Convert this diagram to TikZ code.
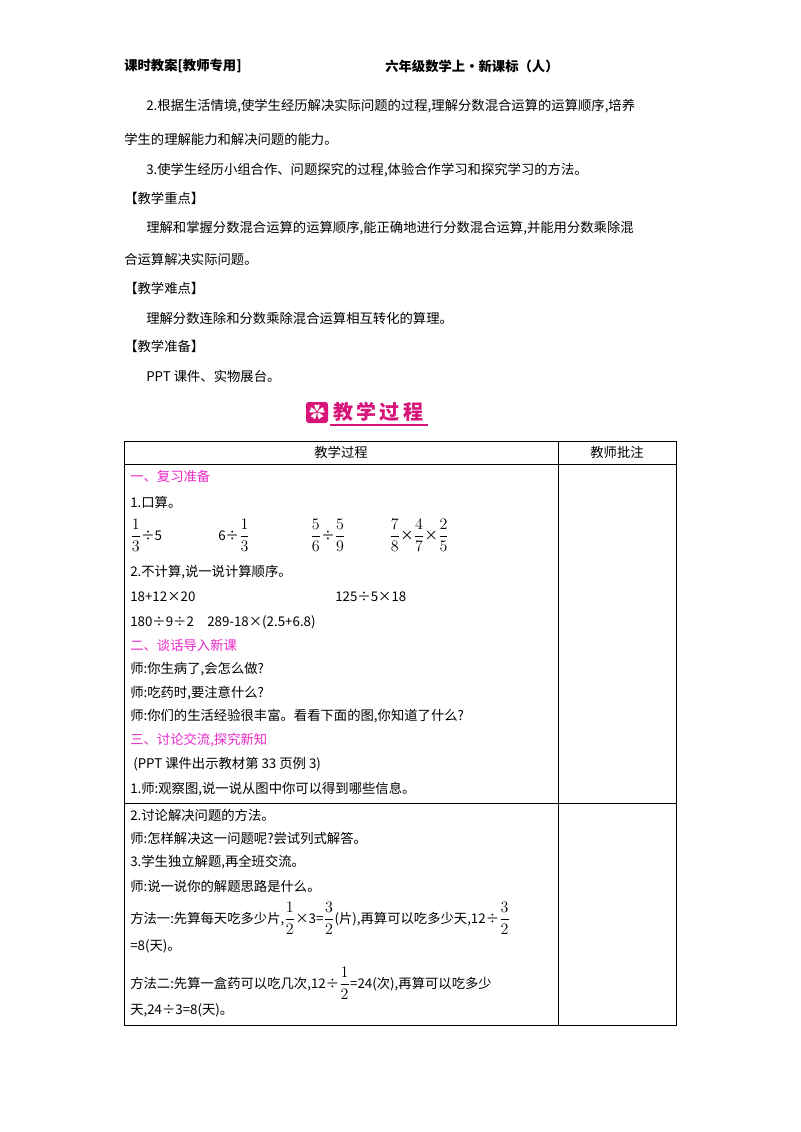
\documentclass[tikz,border=0pt]{standalone}
\usepackage{fontspec}
\setmainfont{Noto Sans CJK SC}
\usepackage{amsmath}
\definecolor{mag}{RGB}{235,40,200}
\definecolor{ban}{RGB}{215,20,120}
\newcommand{\fr}[2]{{\fontsize{13pt}{15pt}\selectfont$\dfrac{#1}{#2}$}}
\begin{document}
\begin{tikzpicture}[x=0.75pt,y=-0.75pt,
 t/.style={anchor=west,inner sep=0,font=\fontsize{10pt}{12pt}\selectfont},
 h/.style={t,text=mag},
 c/.style={anchor=center,inner sep=0,font=\fontsize{10pt}{12pt}\selectfont}]
\useasboundingbox[fill=white] (0,0) rectangle (800,1132);
\node[t,font=\bfseries\fontsize{10pt}{12pt}\selectfont] (h1) at (124,66) {课时教案[教师专用]};
\node[t,font=\bfseries\fontsize{10pt}{12pt}\selectfont] (h2) at (385,66) {六年级数学上·新课标（人）};
\node[t] (a1) at (146,106) {2.根据生活情境,使学生经历解决实际问题的过程,理解分数混合运算的运算顺序,培养};
\node[t] (a2) at (124,139) {学生的理解能力和解决问题的能力。};
\node[t] (a3) at (146,170) {3.使学生经历小组合作、问题探究的过程,体验合作学习和探究学习的方法。};
\node[t] (a4) at (124,198) {【教学重点】};
\node[t] (a5) at (146,228) {理解和掌握分数混合运算的运算顺序,能正确地进行分数混合运算,并能用分数乘除混};
\node[t] (a6) at (124,259) {合运算解决实际问题。};
\node[t] (a7) at (124,288) {【教学难点】};
\node[t] (a8) at (146,318) {理解分数连除和分数乘除混合运算相互转化的算理。};
\node[t] (a9) at (124,346) {【教学准备】};
\node[t] (a10) at (146,376) {PPT 课件、实物展台。};
% banner
\fill[ban,rounded corners=2pt] (306,402) rectangle (328,423);
\node[text=white,inner sep=0,font=\fontsize{12pt}{12pt}\selectfont] (bi) at (317,412.5) {✿};
\node[anchor=west,inner sep=0,text=ban,font=\bfseries\fontsize{15pt}{16pt}\selectfont] (bt) at (333,412) {教\,学\,过\,程};
\draw[ban,line width=0.8pt] (330,425) -- (428,425);
% table
\draw[line width=0.6pt] (124,441) rectangle (676,1025);
\draw[line width=0.6pt] (124,464) -- (676,464);
\draw[line width=0.6pt] (124,803) -- (676,803);
\draw[line width=0.6pt] (558,441) -- (558,1025);
\node[c] (th1) at (341,452) {教学过程};
\node[c] (th2) at (617,452) {教师批注};
\node[h] (b1) at (130,476) {一、复习准备};
\node[t] (b2) at (130,502) {1.口算。};
\node[t] (f1) at (130,535) {\fr{1}{3}÷5};
\node[t] (f2) at (218,535) {6÷\fr{1}{3}};
\node[t] (f3) at (310,535) {\fr{5}{6}÷\fr{5}{9}};
\node[t] (f4) at (389,535) {\fr{7}{8}×\fr{4}{7}×\fr{2}{5}};
\node[t] (b3) at (130,572) {2.不计算,说一说计算顺序。};
\node[t] (b4) at (130,597) {18+12×20};
\node[t] (b5) at (335,597) {125÷5×18};
\node[t] (b6) at (130,622) {180÷9÷2};
\node[t] (b7) at (207,622) {289-18×(2.5+6.8)};
\node[h] (b8) at (130,645) {二、谈话导入新课};
\node[t] (b9) at (130,669) {师:你生病了,会怎么做?};
\node[t] (b10) at (130,693) {师:吃药时,要注意什么?};
\node[t] (b11) at (130,716) {师:你们的生活经验很丰富。看看下面的图,你知道了什么?};
\node[h] (b12) at (130,740) {三、讨论交流,探究新知};
\node[t] (b13) at (133,764) {(PPT 课件出示教材第 33 页例 3)};
\node[t] (b14) at (130,789) {1.师:观察图,说一说从图中你可以得到哪些信息。};
\node[t] (c1) at (130,815) {2.讨论解决问题的方法。};
\node[t] (c2) at (130,838) {师:怎样解决这一问题呢?尝试列式解答。};
\node[t] (c3) at (130,862) {3.学生独立解题,再全班交流。};
\node[t] (c4) at (130,886) {师:说一说你的解题思路是什么。};
\node[t] (c5) at (130,918) {方法一:先算每天吃多少片,\fr{1}{2}×3=\fr{3}{2}(片),再算可以吃多少天,12÷\fr{3}{2}};
\node[t] (c6) at (130,946) {=8(天)。};
\node[t] (c7) at (130,983) {方法二:先算一盒药可以吃几次,12÷\fr{1}{2}=24(次),再算可以吃多少};
\node[t] (c8) at (130,1010) {天,24÷3=8(天)。};
\end{tikzpicture}
\end{document}
